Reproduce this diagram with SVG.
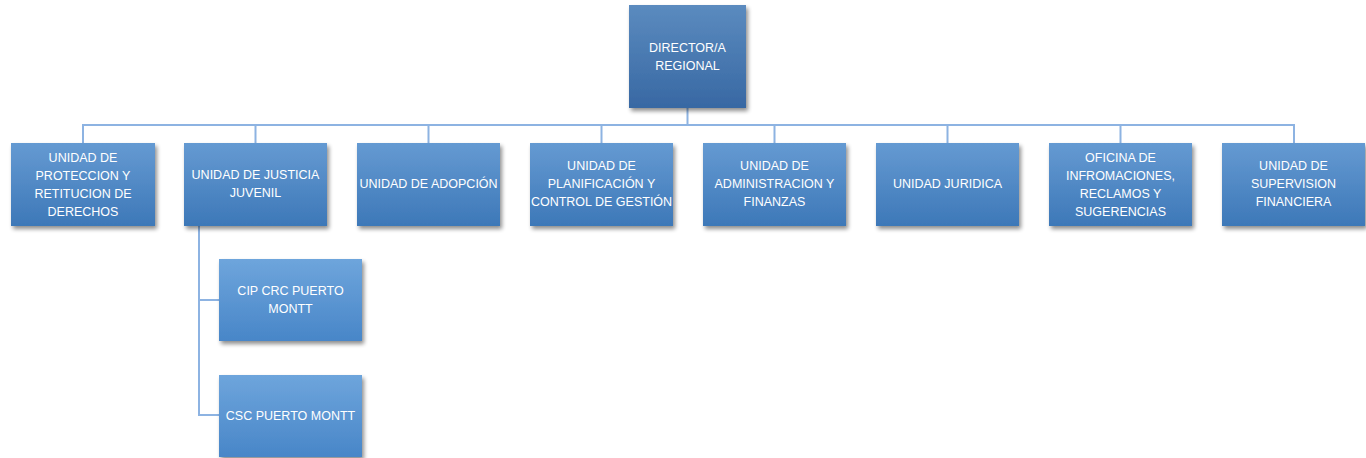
<svg xmlns="http://www.w3.org/2000/svg" width="1366" height="458" viewBox="0 0 1366 458">
<defs>
<linearGradient id="gTop" x1="0" y1="0" x2="0" y2="1"><stop offset="0" stop-color="#5b8bbf"/><stop offset="1" stop-color="#3868a3"/></linearGradient>
<linearGradient id="gBox" x1="0" y1="0" x2="0" y2="1"><stop offset="0" stop-color="#659ad2"/><stop offset="1" stop-color="#3d78b8"/></linearGradient>
<linearGradient id="gChild" x1="0" y1="0" x2="0" y2="1"><stop offset="0" stop-color="#6ea5dc"/><stop offset="1" stop-color="#4886c8"/></linearGradient>
<filter id="sh" x="-10%" y="-10%" width="130%" height="130%"><feGaussianBlur in="SourceAlpha" stdDeviation="2"/><feOffset dx="2" dy="3"/><feComponentTransfer><feFuncA type="linear" slope="0.45"/></feComponentTransfer><feMerge><feMergeNode/><feMergeNode in="SourceGraphic"/></feMerge></filter>
</defs>
<style>
.conn{fill:none;stroke:#8db3e2;stroke-width:2}
.n rect{filter:url(#sh)}
.t{font-family:"Liberation Sans",Arial,sans-serif;font-size:12.5px;fill:#ffffff;text-anchor:middle}
</style>
<g id="connectors">
<path class="conn" d="M687.5 108V125M83 143V125H1294V143M255.5 125V143M428.5 125V143M601.5 125V143M774.5 125V143M947.5 125V143M1120.5 125V143"/>
<path class="conn" d="M199 226V415H219M199 300H219"/>
</g>
<g id="director" class="n"><rect x="629" y="5" width="117" height="103" fill="url(#gTop)"/><text class="t" x="687.5" y="52">DIRECTOR/A</text><text class="t" x="687.5" y="70">REGIONAL</text></g>
<g id="proteccion" class="n"><rect x="11" y="143" width="144" height="83" fill="url(#gBox)"/><text class="t" x="83" y="162">UNIDAD DE</text><text class="t" x="83" y="180">PROTECCION Y</text><text class="t" x="83" y="198">RETITUCION DE</text><text class="t" x="83" y="216">DERECHOS</text></g>
<g id="justicia" class="n"><rect x="184" y="143" width="143" height="83" fill="url(#gBox)"/><text class="t" x="255.5" y="179">UNIDAD DE JUSTICIA</text><text class="t" x="255.5" y="197">JUVENIL</text></g>
<g id="adopcion" class="n"><rect x="357" y="143" width="143" height="83" fill="url(#gBox)"/><text class="t" x="428.5" y="188">UNIDAD DE ADOPCIÓN</text></g>
<g id="planificacion" class="n"><rect x="530" y="143" width="143" height="83" fill="url(#gBox)"/><text class="t" x="601.5" y="170">UNIDAD DE</text><text class="t" x="601.5" y="188">PLANIFICACIÓN Y</text><text class="t" x="601.5" y="206">CONTROL DE GESTIÓN</text></g>
<g id="administracion" class="n"><rect x="703" y="143" width="143" height="83" fill="url(#gBox)"/><text class="t" x="774.5" y="170">UNIDAD DE</text><text class="t" x="774.5" y="188">ADMINISTRACION Y</text><text class="t" x="774.5" y="206">FINANZAS</text></g>
<g id="juridica" class="n"><rect x="876" y="143" width="143" height="83" fill="url(#gBox)"/><text class="t" x="947.5" y="188">UNIDAD JURIDICA</text></g>
<g id="oirs" class="n"><rect x="1049" y="143" width="143" height="83" fill="url(#gBox)"/><text class="t" x="1120.5" y="162">OFICINA DE</text><text class="t" x="1120.5" y="180">INFROMACIONES,</text><text class="t" x="1120.5" y="198">RECLAMOS Y</text><text class="t" x="1120.5" y="216">SUGERENCIAS</text></g>
<g id="supervision" class="n"><rect x="1222" y="143" width="143" height="83" fill="url(#gBox)"/><text class="t" x="1293.5" y="170">UNIDAD DE</text><text class="t" x="1293.5" y="188">SUPERVISION</text><text class="t" x="1293.5" y="206">FINANCIERA</text></g>
<g id="cip" class="n"><rect x="219" y="259" width="143" height="82" fill="url(#gChild)"/><text class="t" x="290.5" y="295">CIP CRC PUERTO</text><text class="t" x="290.5" y="313">MONTT</text></g>
<g id="csc" class="n"><rect x="219" y="375" width="143" height="82" fill="url(#gChild)"/><text class="t" x="290.5" y="420">CSC PUERTO MONTT</text></g>
</svg>
